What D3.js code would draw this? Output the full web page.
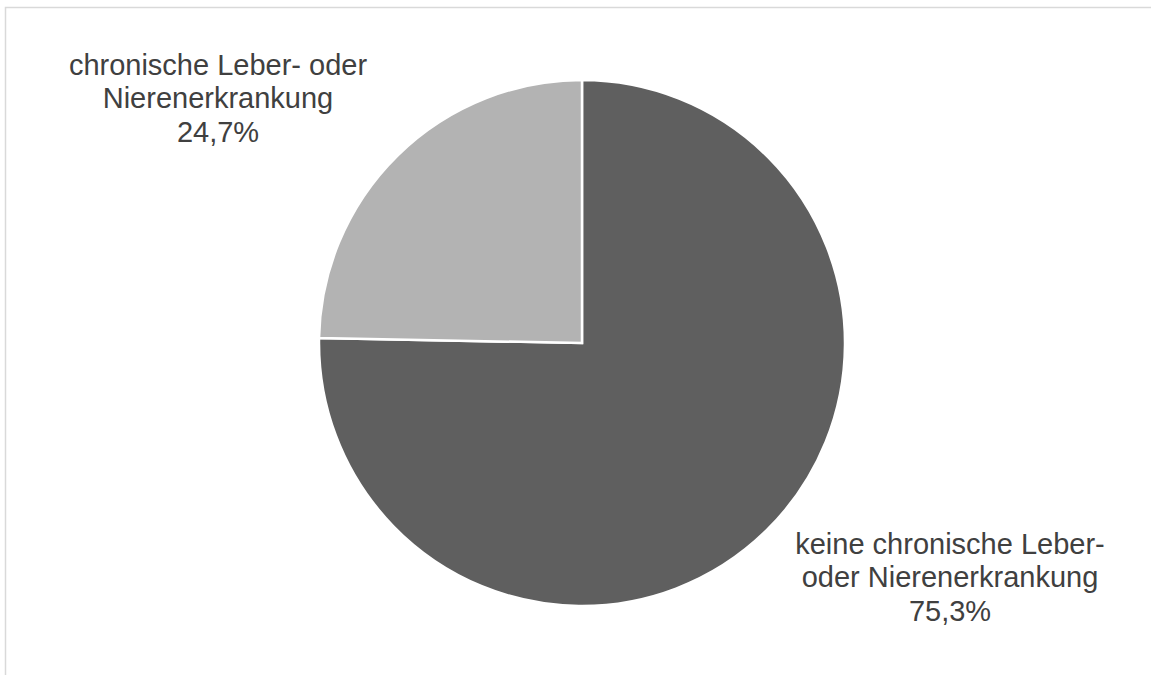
<!DOCTYPE html>
<html>
<head>
<meta charset="utf-8">
<script src="https://cdn.jsdelivr.net/npm/d3@7"></script>
<style>
  html, body { margin: 0; padding: 0; background: #ffffff; }
  svg { display: block; }
  text { font-family: "Liberation Sans", Arial, sans-serif; fill: #404040; }
</style>
</head>
<body>
<script>
// Share of respondents with / without chronic liver or kidney disease
const categories = ["keine chronische Leber- oder Nierenerkrankung", "chronische Leber- oder Nierenerkrankung"];
const values = [75.3, 24.7];
const sliceColors = ["#5f5f5f", "#b3b3b3"];
// Label lines as laid out on the chart
const labelLines = [
  ["keine chronische Leber-", "oder Nierenerkrankung"],
  ["chronische Leber- oder", "Nierenerkrankung"]
];

const width = 1151, height = 675;
const cx = 582, cy = 343, radius = 263;
const fmt = v => d3.format(".1f")(v).replace(".", ",") + "%";

const svg = d3.select("body").append("svg")
  .attr("width", width).attr("height", height);

// chart area frame (right and bottom edges fall outside the view)
svg.append("rect")
  .attr("x", 5.5).attr("y", 7.5)
  .attr("width", 1160).attr("height", 700)
  .attr("fill", "none")
  .attr("stroke", "#d9d9d9")
  .attr("stroke-width", 1.5);

const pie = d3.pie().sort(null).value(d => d)(values);
const arc = d3.arc().innerRadius(0).outerRadius(radius);

const g = svg.append("g").attr("transform", `translate(${cx},${cy})`);
g.selectAll("path.slice")
  .data(pie)
  .join("path")
  .attr("class", "slice")
  .attr("d", arc)
  .attr("fill", (d, i) => sliceColors[i])
  .attr("stroke", "#ffffff")
  .attr("stroke-width", 2.5)
  .attr("stroke-linejoin", "miter");

// data labels placed outside the slices
const labelPos = [
  { x: 950, y: 554 },
  { x: 218, y: 75 }
];
const fontSize = 29, lineH = 33.3;
pie.forEach((d, i) => {
  const lines = labelLines[i].concat([fmt(values[i])]);
  const t = svg.append("text")
    .attr("text-anchor", "middle")
    .attr("font-size", fontSize);
  lines.forEach((ln, k) => {
    t.append("tspan")
      .attr("x", labelPos[i].x)
      .attr("y", labelPos[i].y + k * lineH)
      .text(ln);
  });
});
</script>
</body>
</html>
